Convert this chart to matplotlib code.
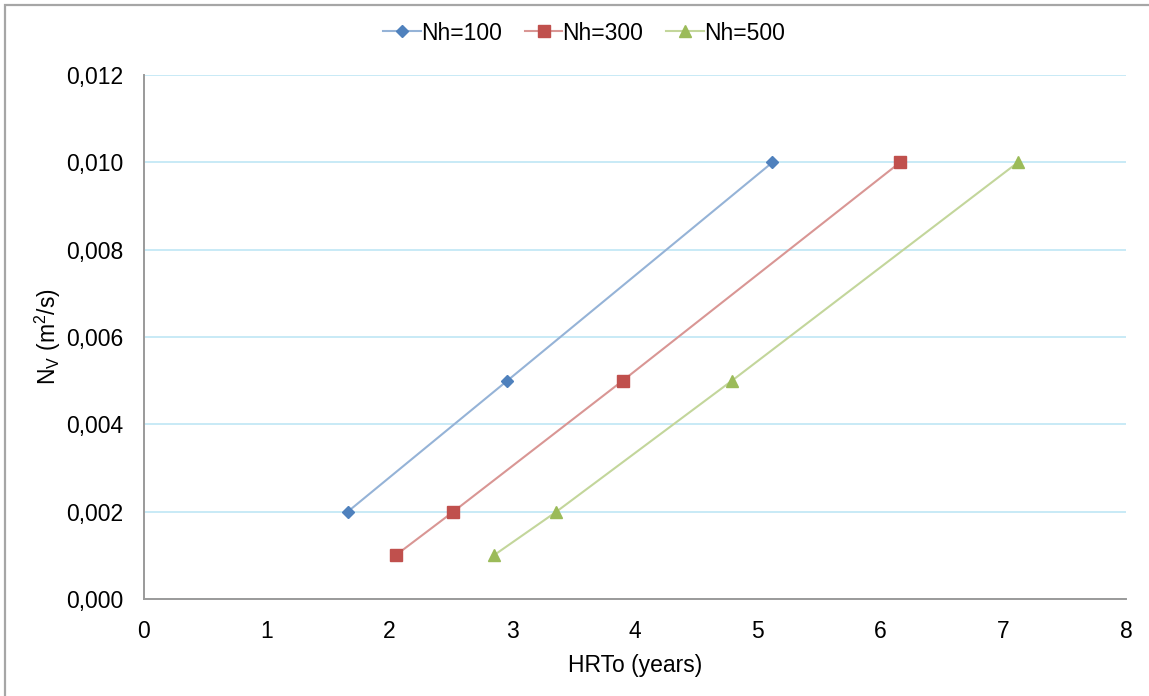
import matplotlib
matplotlib.use("Agg")
import matplotlib.pyplot as plt
from matplotlib.patches import Rectangle
from matplotlib.ticker import FuncFormatter

plt.rcParams['font.family'] = ['Liberation Sans', 'DejaVu Sans']

# HRTo (years) versus Nv (m2/s) for three Nh values
nv_100 = [0.002, 0.005, 0.010]
hrt_100 = [1.66, 2.96, 5.12]

nv_300 = [0.001, 0.002, 0.005, 0.010]
hrt_300 = [2.05, 2.52, 3.90, 6.16]

nv_500 = [0.001, 0.002, 0.005, 0.010]
hrt_500 = [2.85, 3.36, 4.79, 7.12]

series_labels = ['Nh=100', 'Nh=300', 'Nh=500']
x_ticks = [0, 1, 2, 3, 4, 5, 6, 7, 8]
y_ticks = [0.000, 0.002, 0.004, 0.006, 0.008, 0.010, 0.012]

FS = 16.5
W, H = 1149, 696
fig = plt.figure(figsize=(W / 100, H / 100), dpi=100)
ax = fig.add_axes([144 / W, 1 - 599 / H, (1126 - 144) / W, (599 - 75) / H])

# Outer chart frame (top and left edges visible)
fig.patches.append(Rectangle((5 / W, -0.05), 1.2, 1 - 5 / H + 0.05,
                             transform=fig.transFigure, fill=False,
                             edgecolor='#a6a6a6', linewidth=1.6))

styles = [
    dict(line='#95b3d7', marker='D', mcolor='#4f81bd', ms=6.5),
    dict(line='#d99694', marker='s', mcolor='#c0504d', ms=8),
    dict(line='#c3d69b', marker='^', mcolor='#9bbb59', ms=9),
]
data = [(hrt_100, nv_100), (hrt_300, nv_300), (hrt_500, nv_500)]

for (x, y), lab, st in zip(data, series_labels, styles):
    ax.plot(x, y, color=st['line'], linewidth=1.5, marker=st['marker'],
            markersize=st['ms'], markerfacecolor=st['mcolor'],
            markeredgecolor=st['mcolor'], label=lab, zorder=3)

ax.set_xlim(0, 8)
ax.set_ylim(0, 0.012)
ax.set_xticks(x_ticks)
ax.set_yticks(y_ticks)
ax.yaxis.set_major_formatter(FuncFormatter(lambda v, p: f"{v:.3f}".replace('.', ',')))
ax.tick_params(axis='both', length=0, labelsize=FS, colors='#000000')
ax.tick_params(axis='x', pad=15)
ax.tick_params(axis='y', pad=15)

ax.grid(axis='y', color='#bfe6f5', linewidth=1.2)
ax.set_axisbelow(True)
for side in ('top', 'right'):
    ax.spines[side].set_visible(False)
for side in ('left', 'bottom'):
    ax.spines[side].set_color('#9a9a9a')
    ax.spines[side].set_linewidth(1.4)

ax.set_xlabel('HRTo (years)', fontsize=FS, labelpad=8)
ax.set_ylabel(r'N$_{\mathregular{V}}$ (m$^{\mathregular{2}}$/s)', fontsize=FS, labelpad=2)

ax.legend(loc='center', bbox_to_anchor=(584 / W, 1 - 33 / H),
          bbox_transform=fig.transFigure, ncol=3, frameon=False,
          fontsize=FS, handlelength=1.65, columnspacing=1.0, handletextpad=0.0)

fig.savefig('out.png', dpi=100, facecolor='white')
